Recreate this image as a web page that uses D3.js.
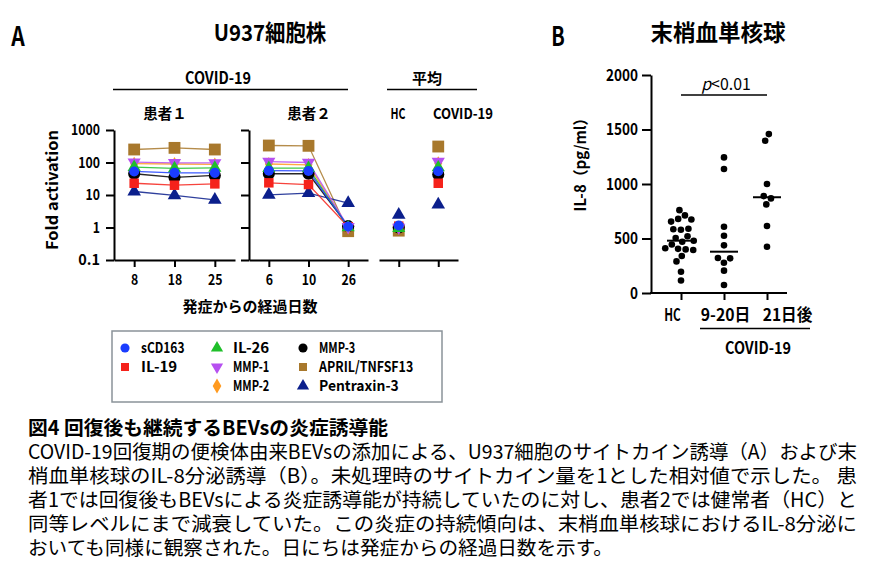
<!DOCTYPE html>
<html>
<head>
<meta charset="utf-8">
<script src="https://cdn.jsdelivr.net/npm/d3@7"></script>
<style>
  body { margin: 0; background: #fff; }
  svg { display: block; }
</style>
</head>
<body>
<script>
// ---- data ----
const series = ["sCD163", "IL-19", "IL-26", "MMP-1", "MMP-2", "MMP-3", "APRIL/TNFSF13", "Pentraxin-3"];
const colors = ["#1a3dff", "#f5221b", "#1fbf2a", "#b650f0", "#ff9a1f", "#000000", "#a8782c", "#0b1f8c"];
const shapes = ["circle", "square", "triUp", "triDown", "diamond", "circle", "square", "triUp"];

const p1Days = ["8", "18", "25"];
const p2Days = ["6", "10", "26"];
const avgGroups = ["HC", "COVID-19"];

// fold activation, one row per series (same order as `series`)
const p1Values = [
  [53, 48, 48],
  [23, 20, 22],
  [72, 66, 68],
  [102, 98, 97],
  [92, 90, 88],
  [45, 35, 40],
  [251, 282, 251],
  [12.8, 9.7, 7.1]
];
const p2Values = [
  [56, 55, 1.07],
  [23.7, 21, 1.05],
  [67, 67, 1.0],
  [107, 100, 1.05],
  [90, 85, 1.0],
  [45, 45, 1.1],
  [333, 326, 0.77],
  [10.1, 11.4, 5.6]
];
const avgValues = [
  [1.15, 54],
  [1.1, 23],
  [0.95, 70],
  [1.0, 107],
  [1.0, 95],
  [1.0, 43],
  [0.8, 310],
  [2.46, 5.1]
];
const foldTicks = [0.1, 1, 10, 100, 1000];

// panel B : IL-8 (pg/ml)
const il8Groups = ["HC", "9-20日", "21日後"];
const il8HC = [760, 712, 680, 675, 655, 590, 585, 580, 520, 505, 480, 470, 445, 410, 405, 400, 395, 340, 290, 195, 115];
const il8Early = [1244, 1137, 608, 525, 437, 321, 318, 278, 205, 73];
const il8Late = [1458, 1397, 1000, 889, 868, 813, 614, 425];
const il8Ticks = [0, 500, 1000, 1500, 2000];

const captionTitle = "図4 回復後も継続するBEVsの炎症誘導能";
const captionLines = [
  "COVID-19回復期の便検体由来BEVsの添加による、U937細胞のサイトカイン誘導（A）および末",
  "梢血単核球のIL-8分泌誘導（B）。未処理時のサイトカイン量を1とした相対値で示した。 患",
  "者1では回復後もBEVsによる炎症誘導能が持続していたのに対し、患者2では健常者（HC）と",
  "同等レベルにまで減衰していた。この炎症の持続傾向は、末梢血単核球におけるIL-8分泌に",
  "おいても同様に観察された。日にちは発症からの経過日数を示す。"
];

// ---- drawing ----
const W = 874, H = 571;
const font = "'Noto Sans CJK JP',sans-serif";

const svg = d3.select("body").append("svg")
    .attr("width", W)
    .attr("height", H)
    .style("font-family", font)
    .style("font-weight", "bold");

svg.append("rect").attr("width", W).attr("height", H).attr("fill", "#fff");

// the original uses a gothic face with half-width latin: squeeze text to that grid
function ems(s) {
  let w = 0;
  for (const ch of s) w += ch.codePointAt(0) >= 0x2E80 ? 1 : 0.5;
  return w;
}
function fit(sel) {
  sel.each(function() {
    const t = d3.select(this);
    const fs = parseFloat(t.style("font-size"));
    const s = t.text();
    if (!s) return;
    t.attr("textLength", ems(s) * fs).attr("lengthAdjust", "spacingAndGlyphs");
  });
}

function symbolPath(shape, size) {
  const t = { circle: d3.symbolCircle, square: d3.symbolSquare, triUp: d3.symbolTriangle,
              triDown: d3.symbolTriangle, diamond: d3.symbolDiamond }[shape];
  return d3.symbol(t, size)();
}
const markerSize = [80, 90, 75, 75, 55, 115, 140, 80];
const drawOrder = [6, 5, 7, 1, 4, 3, 2, 0];

function drawMarkers(g, xs, values, y) {
  drawOrder.forEach(i => {
    values[i].forEach((v, j) => {
      g.append("path")
          .attr("d", symbolPath(shapes[i], markerSize[i]))
          .attr("transform", `translate(${xs(xs.domain()[j])},${y(v)})${shapes[i] === "triDown" ? " rotate(180)" : ""}`)
          .attr("fill", colors[i]);
    });
  });
}

function drawLines(g, xs, values, y) {
  const line = d3.line().x((d, j) => xs(xs.domain()[j])).y(d => y(d));
  drawOrder.forEach(i => {
    g.append("path")
        .attr("d", line(values[i]))
        .attr("fill", "none")
        .attr("stroke", colors[i])
        .attr("stroke-width", 1.3)
        .attr("stroke-opacity", 0.85);
  });
}

function styleAxis(size) {
  return g => {
    g.selectAll("path, line").attr("stroke", "#000").attr("stroke-width", 2);
    g.selectAll("text").attr("fill", "#000").style("font-family", font)
        .style("font-weight", "bold").style("font-size", size + "px")
        .call(fit);
  };
}

function label(g, x, y, text, size, rotate) {
  return g.append("text")
      .attr("transform", `translate(${x},${y})${rotate ? " rotate(-90)" : ""}`)
      .attr("text-anchor", "middle")
      .attr("dy", "0.35em")
      .style("font-size", size + "px")
      .text(text)
      .call(fit);
}

// panel letters and titles
label(svg, 18, 37, "A", 27);
label(svg, 558, 37, "B", 27);
label(svg, 270, 33, "U937細胞株", 22.5);
label(svg, 718, 33, "末梢血単核球", 22.5);

// ---- panel A ----
const y = d3.scaleLog().domain([0.1, 1000]).range([260, 130]);
const x1 = d3.scalePoint().domain(p1Days).range([114, 235]).padding(0.5);
const x2 = d3.scalePoint().domain(p2Days).range([249, 368]).padding(0.5);
const x3 = d3.scalePoint().domain(avgGroups).range([379, 458]).padding(0.5);

const A = svg.append("g");

A.append("g")
    .attr("transform", "translate(114,0)")
    .call(d3.axisLeft(y).tickValues(foldTicks).tickFormat(d => d < 1 ? "0.1" : d3.format("d")(d)).tickSize(8).tickSizeOuter(0).tickPadding(6))
    .call(styleAxis(14.5));
A.append("g")
    .attr("transform", "translate(249,0)")
    .call(d3.axisLeft(y).tickValues(foldTicks).tickFormat("").tickSize(8).tickSizeOuter(0))
    .call(styleAxis(14.5));

[x1, x2].forEach(xs => {
  A.append("g")
      .attr("transform", "translate(0,260)")
      .call(d3.axisBottom(xs).tickSize(7).tickSizeOuter(0).tickPadding(8))
      .call(styleAxis(14.5));
});
A.append("g")
    .attr("transform", "translate(0,260)")
    .call(d3.axisBottom(x3).tickFormat("").tickSize(7).tickSizeOuter(0))
    .call(styleAxis(14.5));

drawLines(A, x1, p1Values, y);
drawLines(A, x2, p2Values, y);
drawMarkers(A, x1, p1Values, y);
drawMarkers(A, x2, p2Values, y);
drawMarkers(A, x3, avgValues, y);

label(A, 52, 190, "Fold activation", 16, true);
label(A, 250, 307, "発症からの経過日数", 15);

// group headers
label(A, 218, 78, "COVID-19", 16.5);
A.append("line").attr("x1", 113).attr("x2", 348).attr("y1", 89.5).attr("y2", 89.5).attr("stroke", "#000").attr("stroke-width", 1.5);
label(A, 427, 79, "平均", 15);
A.append("line").attr("x1", 387).attr("x2", 477).attr("y1", 89.5).attr("y2", 89.5).attr("stroke", "#000").attr("stroke-width", 1.5);
label(A, 165, 114, "患者１", 14.5);
label(A, 309, 114, "患者２", 14.5);
label(A, 398, 114, "HC", 15);
label(A, 463, 114, "COVID-19", 15);

// legend
const legend = A.append("g");
legend.append("rect")
    .attr("x", 112).attr("y", 331).attr("width", 330).attr("height", 71)
    .attr("fill", "#fff").attr("stroke", "#8a9399").attr("stroke-width", 1.5);
const legendCols = [[0, 1], [2, 3, 4], [5, 6, 7]];
const legendSymX = [125, 217, 303];
legendCols.forEach((col, c) => {
  col.forEach((i, r) => {
    const ly = 348 + r * 19;
    legend.append("path")
        .attr("d", symbolPath(shapes[i], 65))
        .attr("transform", `translate(${legendSymX[c]},${ly})${shapes[i] === "triDown" ? " rotate(180)" : ""}`)
        .attr("fill", colors[i]);
    legend.append("text")
        .attr("x", legendSymX[c] + 16).attr("y", ly).attr("dy", "0.35em")
        .style("font-size", "14.5px")
        .text(series[i])
        .call(fit);
  });
});

// ---- panel B ----
const yB = d3.scaleLinear().domain([0, 2000]).range([293, 75]);
const xB = d3.scalePoint().domain(il8Groups).range([681, 767]);
const B = svg.append("g");

B.append("g")
    .attr("transform", "translate(651,0)")
    .call(d3.axisLeft(yB).tickValues(il8Ticks).tickFormat(d3.format("d")).tickSize(9).tickSizeOuter(0).tickPadding(4))
    .call(styleAxis(16));
B.append("line").attr("x1", 650).attr("x2", 787).attr("y1", 293).attr("y2", 293)
    .attr("stroke", "#000").attr("stroke-width", 2);
// category labels sit slightly off their ticks in the original
const xLabelShift = [-9, 1, 20];
B.append("g")
    .attr("transform", "translate(0,293)")
    .call(d3.axisBottom(xB).tickSize(7).tickSizeOuter(0).tickPadding(9))
    .call(styleAxis(16.5))
    .call(g => g.select(".domain").remove())
    .call(g => g.selectAll(".tick text").attr("dx", (d, i) => xLabelShift[i]));

// beeswarm layout for the dots
const il8Sets = [il8HC, il8Early, il8Late];
const nodes = [];
il8Sets.forEach((vals, gi) => vals.forEach(v => nodes.push({ g: il8Groups[gi], v, x: xB(il8Groups[gi]), fy: yB(v) })));
const sim = d3.forceSimulation(nodes)
    .force("x", d3.forceX(d => xB(d.g)).strength(0.12))
    .force("collide", d3.forceCollide(3.8))
    .stop();
for (let i = 0; i < 300; ++i) sim.tick();

B.selectAll("circle.dot")
  .data(nodes)
  .join("circle")
    .attr("class", "dot")
    .attr("cx", d => d.x)
    .attr("cy", d => d.fy)
    .attr("r", 3.3)
    .attr("fill", "#000");

// medians
il8Sets.forEach((vals, gi) => {
  const m = d3.median(vals);
  B.append("line")
      .attr("x1", xB(il8Groups[gi]) - 14).attr("x2", xB(il8Groups[gi]) + 14)
      .attr("y1", yB(m)).attr("y2", yB(m))
      .attr("stroke", "#000").attr("stroke-width", 2);
});

label(B, 581, 161, "IL-8（pg/ml）", 15.5, true);

// significance bar
B.append("line").attr("x1", xB("HC")).attr("x2", xB("21日後")).attr("y1", 95).attr("y2", 95)
    .attr("stroke", "#000").attr("stroke-width", 1.5);
const pt = B.append("text").attr("x", 726).attr("y", 84).attr("dy", "0.35em").attr("text-anchor", "middle")
    .style("font-size", "16.5px").style("font-weight", "normal");
pt.append("tspan").style("font-style", "italic").text("p");
pt.append("tspan").text("<0.01");
pt.attr("textLength", ems("p<0.01") * 16.5).attr("lengthAdjust", "spacingAndGlyphs");

// COVID-19 grouping under the axis
B.append("line").attr("x1", 700).attr("x2", 810).attr("y1", 328.5).attr("y2", 328.5)
    .attr("stroke", "#000").attr("stroke-width", 1.5);
label(B, 758, 348, "COVID-19", 16.5);

// ---- caption ----
const cap = svg.append("g");
cap.append("text").attr("x", 28).attr("y", 435)
    .style("font-size", "19.5px").style("font-weight", "bold")
    .text(captionTitle)
    .call(fit)
    .attr("textLength", 360);
captionLines.forEach((t, i) => {
  const tx = cap.append("text")
      .attr("x", 28).attr("y", 459 + i * 24)
      .style("font-size", "19.5px").style("font-weight", "normal")
      .text(t)
      .call(fit);
  // the first four lines are justified to the full width
  if (i < captionLines.length - 1) tx.attr("textLength", 829);
});
</script>
</body>
</html>
